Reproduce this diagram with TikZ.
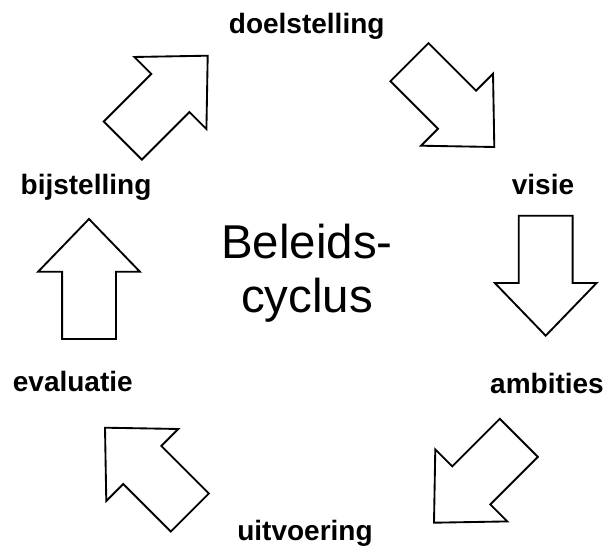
\documentclass[tikz,border=0pt]{standalone}
\usepackage{fontspec}
\setmainfont{Liberation Sans}
\usepackage{tikz}
\usetikzlibrary{
  shapes.arrows,
  positioning
}
\tikzset{
  cyclearrow/.style={single arrow,draw=black,fill=white,line width=1.4pt,minimum height=90pt,inner xsep=0pt,inner ysep=19.5pt,single arrow head extend=18pt,single arrow tip angle=88,outer sep=0pt,anchor=tip},
  steplabel/.style={font=\fontsize{21}{25}\selectfont\bfseries,anchor=base,inner sep=0pt},
  cyclelabel/.style={font=\fontsize{35.6}{40.5}\selectfont,align=center,anchor=base,inner sep=0pt}
}

\begin{document}
\begin{tikzpicture}[x=0.75pt,y=-0.75pt]
\useasboundingbox (0,0) rectangle (607,549);

\node[cyclelabel] (cyclus) at (307,312) {Beleids-\\cyclus};

\node[steplabel] (doel) at (306.7,34) {doelstelling};
\node[steplabel] (visie) at (543,195) {visie};
\node[steplabel] (ambit) at (547,393) {ambities};
\node[steplabel] (uitv) at (305,540) {uitvoering};
\node[steplabel] (eval) at (72.8,391.5) {evaluatie};
\node[steplabel] (bijst) at (86,195) {bijstelling};

% block arrows, placed by their tips
\node[cyclearrow,rotate=45] (bijstdoel) at (207.7,55.7) {};
\node[cyclearrow,rotate=-45] (doelvisie) at (494.3,147) {};
\node[cyclearrow,rotate=-90] (visieambit) at (545.7,335.7) {};
\node[cyclearrow,rotate=-135] (ambituitv) at (434,522.7) {};
\node[cyclearrow,rotate=135] (uitveval) at (105,427.7) {};
\node[cyclearrow,rotate=90] (evalbijst) at (89,219) {};
\end{tikzpicture}
\end{document}
